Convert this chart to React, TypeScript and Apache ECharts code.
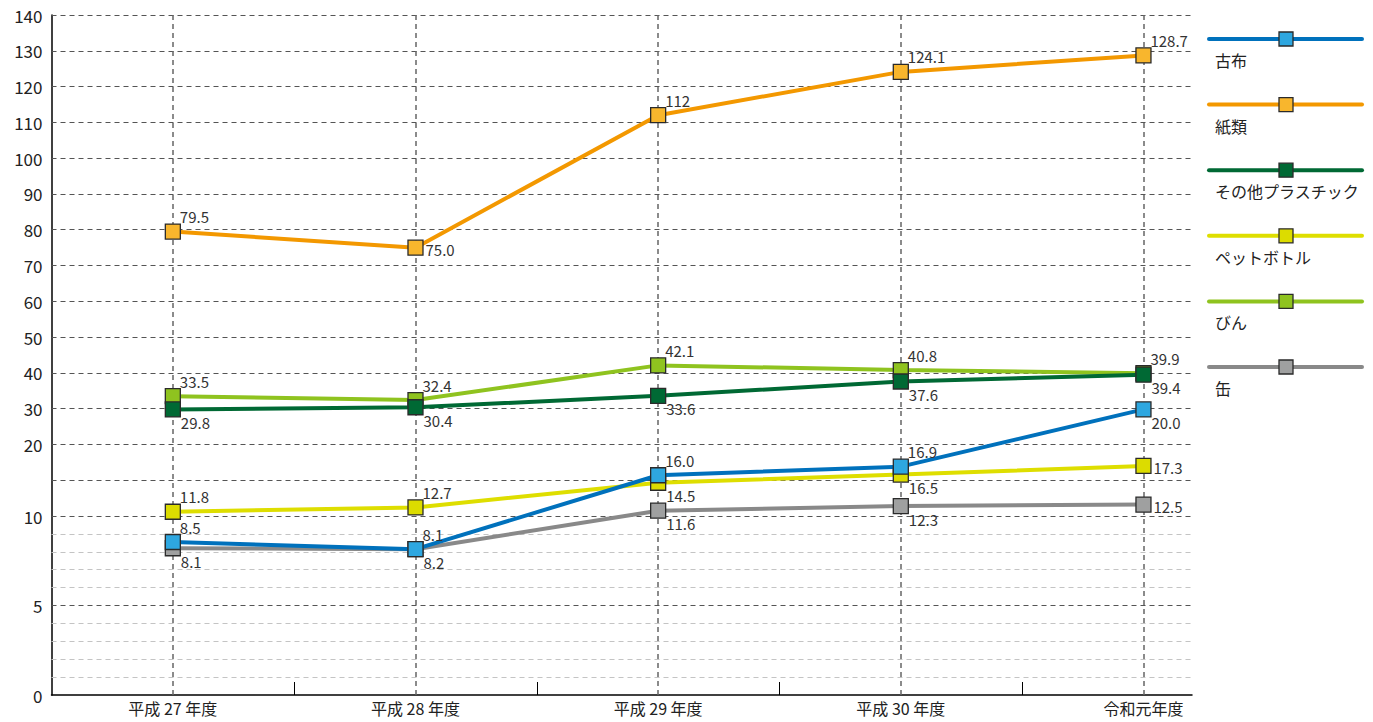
import React, { useEffect, useRef } from "react";
import * as echarts from "echarts";

const categories = ["平成 27 年度", "平成 28 年度", "平成 29 年度", "平成 30 年度", "令和元年度"];
const yTickLabels = [0, 5, 10, 20, 30, 40, 50, 60, 70, 80, 90, 100, 110, 120, 130, 140];
const majorGrid = [5, 10, 15, 20, 30, 40, 50, 60, 70, 80, 90, 100, 110, 120, 130, 140];
const minorGrid = [1, 2, 3, 4, 6, 7, 8, 9];

// plotted positions
const furugi = [8.55, 8.15, 15.7, 16.9, 29.8];
const shirui = [79.5, 75.0, 112, 124.1, 128.7];
const plastic = [29.8, 30.4, 33.6, 37.6, 39.5];
const pet = [10.6, 11.2, 14.65, 15.8, 17.0];
const bin = [33.5, 32.4, 42.1, 40.8, 39.9];
const kan = [8.2, 8.15, 10.75, 11.4, 11.6];

// label texts as printed
const furugiLabels = ["8.5", "8.1", "16.0", "16.9", "20.0"];
const shiruiLabels = ["79.5", "75.0", "112", "124.1", "128.7"];
const plasticLabels = ["29.8", "30.4", "33.6", "37.6", "39.4"];
const petLabels = ["11.8", "12.7", "14.5", "16.5", "17.3"];
const binLabels = ["33.5", "32.4", "42.1", "40.8", "39.9"];
const kanLabels = ["8.1", "8.2", "11.6", "12.3", "12.5"];

// label placement: t = above right, b = below right, r = right
const furugiPos = ["t", "t", "t", "t", "b"];
const shiruiPos = ["t", "r", "t", "t", "t"];
const plasticPos = ["b", "b", "b", "b", "b"];
const petPos = ["t", "t", "b", "b", "r"];
const binPos = ["t", "t", "t", "t", "t"];
const kanPos = ["b", "b", "b", "b", "r"];

// piecewise scale: 0-10 -> 0-10, 10-20 -> 10-14, 20-140 -> 14-38
const toT = (v: number) => (v <= 10 ? v : v <= 20 ? 10 + (v - 10) * 0.4 : 14 + (v - 20) * 0.2);
const fromT = (t: number) => (t <= 10 ? t : t <= 14 ? 10 + (t - 10) / 0.4 : 20 + (t - 14) / 0.2);

const FONT = '"Noto Sans CJK JP", "Noto Sans", sans-serif';

const seriesDefs = [
  { name: "紙類", values: shirui, labels: shiruiLabels, pos: shiruiPos, line: "#f39800", fill: "#f8b62d" },
  { name: "びん", values: bin, labels: binLabels, pos: binPos, line: "#8fc31f", fill: "#8fc31f" },
  { name: "その他プラスチック", values: plastic, labels: plasticLabels, pos: plasticPos, line: "#006934", fill: "#006934" },
  { name: "ペットボトル", values: pet, labels: petLabels, pos: petPos, line: "#dede00", fill: "#dcdc00" },
  { name: "缶", values: kan, labels: kanLabels, pos: kanPos, line: "#898989", fill: "#9fa0a0" },
  { name: "古布", values: furugi, labels: furugiLabels, pos: furugiPos, line: "#0071bc", fill: "#2ea7e0" },
];
const legendOrder = ["古布", "紙類", "その他プラスチック", "ペットボトル", "びん", "缶"];

const offsets: Record<string, number[]> = { t: [7, -15], b: [8, 13], r: [10, 2] };

export default function App() {
  const ref = useRef<HTMLDivElement>(null);
  useEffect(() => {
    if (!ref.current) return;
    const chart = echarts.init(ref.current, null, { renderer: "svg" });

    const gridLines: any[] = [];
    minorGrid.forEach((v) =>
      gridLines.push({ yAxis: toT(v), lineStyle: { color: "#c4c4c4", type: [5, 4], width: 1.2 } })
    );
    majorGrid.forEach((v) =>
      gridLines.push({ yAxis: toT(v), lineStyle: { color: "#555", type: [5, 4], width: 1.2 } })
    );
    categories.forEach((_, i) =>
      gridLines.push({ xAxis: i, lineStyle: { color: "#666", type: [5, 4], width: 1.5 } })
    );

    const series: any[] = [
      {
        type: "line",
        data: [],
        silent: true,
        z: 1,
        markLine: { silent: true, z: 1, symbol: "none", label: { show: false }, data: gridLines, animation: false },
      },
    ];
    seriesDefs.forEach((s, si) => {
      series.push({
        type: "line",
        name: s.name,
        z: 10 + si,
        symbol: "rect",
        symbolSize: 15,
        lineStyle: { color: s.line, width: 4 },
        itemStyle: { color: s.fill, borderColor: "#2a2a2a", borderWidth: 1.3 },
        data: s.values.map((v, i) => ({
          value: [i, toT(v)],
          label: {
            show: true,
            position: "inside",
            align: "left",
            verticalAlign: "middle",
            offset: offsets[s.pos[i]],
            formatter: s.labels[i],
            color: "#333",
            fontSize: 15,
            fontFamily: FONT,
          },
        })),
      });
    });

    const graphics: any[] = [];
    legendOrder.forEach((name, i) => {
      const s = seriesDefs.find((d) => d.name === name)!;
      const y = 39 + i * 65.6;
      graphics.push({
        type: "line",
        shape: { x1: 1209, y1: y, x2: 1362, y2: y },
        style: { stroke: s.line, lineWidth: 4, lineCap: "round" },
      });
      graphics.push({
        type: "rect",
        shape: { x: 1279, y: y - 7, width: 14, height: 14 },
        style: { fill: s.fill, stroke: "#2a2a2a", lineWidth: 1.3 },
      });
      graphics.push({
        type: "text",
        x: 1215,
        y: y + 21,
        style: { text: name, fill: "#222", fontSize: 16, fontFamily: FONT, verticalAlign: "middle", align: "left" },
      });
    });

    chart.setOption({
      animation: false,
      grid: { left: 51.5, right: 181, top: 15, bottom: 27, containLabel: false },
      xAxis: {
        type: "value",
        min: -0.5,
        max: 4.2,
        axisLine: { show: true, onZero: false, lineStyle: { color: "#000", width: 1.5 } },
        axisTick: { show: true, inside: true, length: 13, customValues: [0.5, 1.5, 2.5, 3.5], lineStyle: { color: "#000", width: 1 } },
        axisLabel: {
          customValues: [0, 1, 2, 3, 4],
          formatter: (v: number) => categories[Math.round(v)] ?? "",
          color: "#222",
          fontSize: 16,
          fontFamily: FONT,
          margin: 5,
        },
        splitLine: { show: false },
      },
      yAxis: {
        type: "value",
        min: 0,
        max: 38,
        axisLine: { show: true, onZero: false, lineStyle: { color: "#000", width: 1.5 } },
        axisTick: { show: false },
        axisLabel: {
          customValues: yTickLabels.map(toT),
          formatter: (t: number) => String(Math.round(fromT(t))),
          color: "#222",
          fontSize: 17,
          fontFamily: FONT,
          margin: 9,
        },
        splitLine: { show: false },
      },
      series,
      graphic: graphics,
    });
    return () => chart.dispose();
  }, []);
  return <div ref={ref} style={{ position: "fixed", left: 0, top: 0, width: 1373, height: 722, background: "#fff" }} />;
}
